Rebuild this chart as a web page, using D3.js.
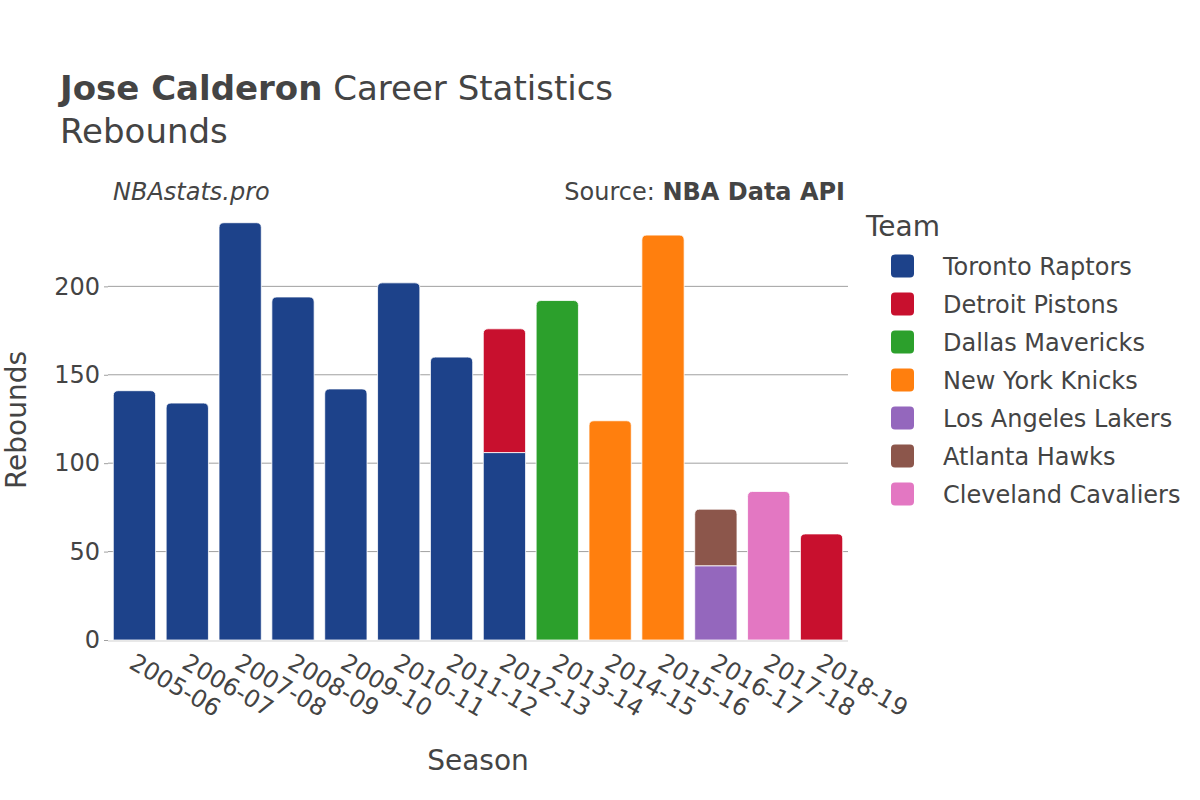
<!DOCTYPE html>
<html>
<head>
<meta charset="utf-8">
<script src="https://cdn.jsdelivr.net/npm/d3@7"></script>
<style>
  body { margin: 0; background: #fff; }
  text { font-family: "DejaVu Sans", sans-serif; fill: #444; }
</style>
</head>
<body>
<svg id="chart" width="1200" height="800"></svg>
<script>
const seasons = ["2005-06","2006-07","2007-08","2008-09","2009-10","2010-11","2011-12","2012-13","2013-14","2014-15","2015-16","2016-17","2017-18","2018-19"];
const teams = ["Toronto Raptors","Detroit Pistons","Dallas Mavericks","New York Knicks","Los Angeles Lakers","Atlanta Hawks","Cleveland Cavaliers"];
const teamColors = ["#1d428a","#c8102e","#2ca02c","#ff7f0e","#9467bd","#8c564b","#e377c2"];
// rows: season, team, rebounds (stack order as listed)
const rowSeason = ["2005-06","2006-07","2007-08","2008-09","2009-10","2010-11","2011-12","2012-13","2012-13","2013-14","2014-15","2015-16","2016-17","2016-17","2017-18","2018-19"];
const rowTeam = ["Toronto Raptors","Toronto Raptors","Toronto Raptors","Toronto Raptors","Toronto Raptors","Toronto Raptors","Toronto Raptors","Toronto Raptors","Detroit Pistons","Dallas Mavericks","New York Knicks","New York Knicks","Los Angeles Lakers","Atlanta Hawks","Cleveland Cavaliers","Detroit Pistons"];
const rowValue = [141,134,236,194,142,202,160,106,70,192,124,229,42,32,84,60];
const yTicks = [0,50,100,150,200];

const svg = d3.select("#chart");
const x = d3.scaleBand().domain(seasons).range([108, 848]).paddingInner(0.2).paddingOuter(0.1);
const y = d3.scaleLinear().domain([0, 248]).range([640, 201.5]);
const color = d3.scaleOrdinal().domain(teams).range(teamColors);

// gridlines
svg.append("g").selectAll("line").data(yTicks.filter(d => d > 0)).join("line")
  .attr("x1", 108).attr("x2", 848)
  .attr("y1", d => y(d)).attr("y2", d => y(d))
  .attr("stroke", "#a0a0a0").attr("stroke-width", 1);

// y axis
const yAxis = svg.append("g").attr("transform", "translate(108,0)")
  .call(d3.axisLeft(y).tickValues(yTicks).tickSize(4).tickPadding(4));
yAxis.select(".domain").remove();
yAxis.selectAll(".tick line").attr("stroke", "#a0a0a0");
yAxis.selectAll(".tick text").style("font-size", "24px").style("font-family", "DejaVu Sans").attr("fill", "#444");

// stacked bars
const base = {};
const rows = rowSeason.map((s, i) => {
  const y0 = base[s] || 0;
  base[s] = y0 + rowValue[i];
  return { season: s, team: rowTeam[i], v: rowValue[i], y0, y1: y0 + rowValue[i] };
});
rows.forEach(r => { r.top = Math.abs(base[r.season] - r.y1) < 1e-9; });

function barPath(r) {
  const x0 = x(r.season), w = x.bandwidth();
  const yb = y(r.y0), yt = y(r.y1);
  const rad = r.top ? Math.min(5, (yb - yt) / 2) : 0;
  return `M${x0},${yb}L${x0},${yt + rad}Q${x0},${yt} ${x0 + rad},${yt}L${x0 + w - rad},${yt}Q${x0 + w},${yt} ${x0 + w},${yt + rad}L${x0 + w},${yb}Z`;
}
svg.append("g").selectAll("path").data(rows).join("path")
  .attr("d", barPath)
  .attr("fill", d => color(d.team))
  .attr("stroke", "#ffffff").attr("stroke-width", 0.8);

// baseline
svg.append("line").attr("x1", 108).attr("x2", 848).attr("y1", y(0) + 1).attr("y2", y(0) + 1)
  .attr("stroke", "#e8e8e8").attr("stroke-width", 2);

// x axis labels
const xAxis = svg.append("g").attr("transform", `translate(0,${y(0)})`)
  .call(d3.axisBottom(x).tickSize(0).tickPadding(0));
xAxis.select(".domain").remove();
xAxis.selectAll(".tick text")
  .style("font-size", "24px").style("font-family", "DejaVu Sans").attr("fill", "#444")
  .attr("text-anchor", "start").attr("dy", null).attr("y", 0)
  .attr("transform", "translate(2,12) rotate(30)")
  .attr("dominant-baseline", "hanging");

// titles
const t = svg.append("text").attr("x", 60).attr("y", 100).style("font-size", "34px");
t.append("tspan").style("font-weight", "bold").text("Jose Calderon");
t.append("tspan").text(" Career Statistics");
svg.append("text").attr("x", 60).attr("y", 143).style("font-size", "34px").text("Rebounds");

svg.append("text").attr("x", 113).attr("y", 200).style("font-size", "24px").style("font-style", "italic").text("NBAstats.pro");
const src = svg.append("text").attr("x", 845).attr("y", 200).attr("text-anchor", "end").style("font-size", "24px");
src.append("tspan").text("Source: ");
src.append("tspan").style("font-weight", "bold").text("NBA Data API");

svg.append("text").attr("transform", "translate(26,420) rotate(-90)").attr("text-anchor", "middle")
  .style("font-size", "28px").text("Rebounds");
svg.append("text").attr("x", 478).attr("y", 770).attr("text-anchor", "middle")
  .style("font-size", "28px").text("Season");

// legend
svg.append("text").attr("x", 866).attr("y", 236).style("font-size", "28px").text("Team");
const lg = svg.append("g").selectAll("g").data(teams).join("g")
  .attr("transform", (d, i) => `translate(0,${266 + i * 38})`);
lg.append("rect").attr("x", 891).attr("y", -11.5).attr("width", 23).attr("height", 23)
  .attr("rx", 4).attr("fill", d => color(d));
lg.append("text").attr("x", 943).attr("y", 8.5).style("font-size", "24px").text(d => d);
</script>
</body>
</html>
